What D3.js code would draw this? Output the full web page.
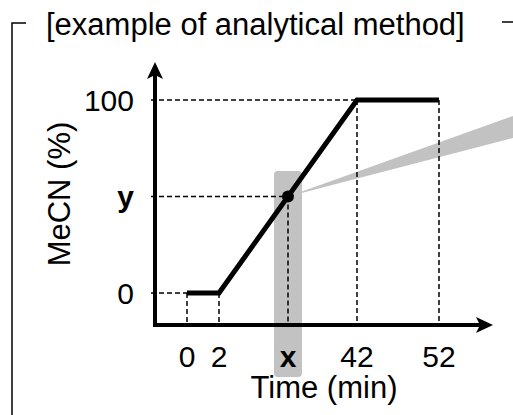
<!DOCTYPE html>
<html>
<head>
<meta charset="utf-8">
<script src="https://cdn.jsdelivr.net/npm/d3@7"></script>
<style>
  body { margin: 0; background: #fff; }
  text { font-family: "Liberation Sans", Arial, sans-serif; fill: #000; }
</style>
</head>
<body>
<div id="chart-area"></div>
<script>

// SVG Size
var width = 513,
    height = 415;

// Gradient program (time in min, MeCN in %)
var gradTime = [0, 2, 42, 52];
var gradMeCN = [0, 0, 100, 100];

// Example point read from the gradient
var markTime = [22];
var markMeCN = [50];

// Tick labels
var xTicks = [0, 2, 22, 42, 52];
var xTickLabels = ["0", "2", "x", "42", "52"];
var yTicks = [0, 50, 100];
var yTickLabels = ["0", "y", "100"];

var title = "[example of analytical method]";

var svg = d3.select("#chart-area")
    .append("svg")
    .attr("width", width)
    .attr("height", height);

// Schematic axis: not to scale, so piecewise
var x = d3.scaleLinear()
    .domain([0, 2, 42, 52])
    .range([187, 219, 357, 439]);

var y = d3.scaleLinear()
    .domain([0, 100])
    .range([293, 100]);

var axisX = 155,   // where the y axis sits
    axisY = 325;   // where the x axis sits

var grey = "#c2c2c2";

// Bracket frame
svg.append("path")
    .attr("d", "M26,23H12V415")
    .attr("fill", "none")
    .attr("stroke", "#000")
    .attr("stroke-width", 1.5);
svg.append("path")
    .attr("d", "M502,22H513")
    .attr("fill", "none")
    .attr("stroke", "#000")
    .attr("stroke-width", 1.5);

svg.append("text")
    .attr("x", 46)
    .attr("y", 35)
    .attr("font-size", "31px")
    .text(title);

// Grey band around the read-out time
svg.append("rect")
    .attr("x", x(markTime[0]) - 14)
    .attr("y", 171)
    .attr("width", 28)
    .attr("height", 206)
    .attr("rx", 4)
    .attr("fill", grey);

// Grey wedge pointing out of the chart
svg.append("polygon")
    .attr("points", [
        [x(markTime[0]), y(markMeCN[0])],
        [width, 116],
        [width, 138]
    ].join(" "))
    .attr("fill", grey);

// Dashed guides
var guides = svg.append("g")
    .attr("stroke", "#000")
    .attr("stroke-width", 1.5)
    .attr("stroke-dasharray", "5,3");

// horizontal guides from y axis
[[0, 0], [42, 100], [markTime[0], markMeCN[0]]].forEach(function(p) {
    guides.append("line")
        .attr("x1", axisX - 4)
        .attr("x2", x(p[0]))
        .attr("y1", y(p[1]))
        .attr("y2", y(p[1]));
});

// vertical guides down to x axis
gradTime.map(function(t, i) { return [t, gradMeCN[i]]; })
    .concat([[markTime[0], markMeCN[0]]])
    .forEach(function(p) {
        guides.append("line")
            .attr("x1", x(p[0]))
            .attr("x2", x(p[0]))
            .attr("y1", y(p[1]))
            .attr("y2", axisY);
    });

// Gradient line
var line = d3.line()
    .x(function(d, i) { return x(gradTime[i]); })
    .y(function(d) { return y(d); });

svg.append("path")
    .datum(gradMeCN)
    .attr("d", line)
    .attr("fill", "none")
    .attr("stroke", "#000")
    .attr("stroke-width", 5)
    .attr("stroke-linejoin", "miter");

svg.selectAll(".mark")
    .data(markTime)
    .enter()
    .append("circle")
    .attr("class", "mark")
    .attr("cx", function(d) { return x(d); })
    .attr("cy", function(d, i) { return y(markMeCN[i]); })
    .attr("r", 6)
    .attr("fill", "#000");

// Axes with arrow heads
var xEnd = 493, yEnd = 62;

svg.append("path")
    .attr("d", "M" + axisX + "," + (axisY + 2) + "V" + (yEnd + 10) +
               "M" + (axisX - 2) + "," + axisY + "H" + (xEnd - 10))
    .attr("fill", "none")
    .attr("stroke", "#000")
    .attr("stroke-width", 4);

svg.append("path")
    .attr("d", "M" + axisX + "," + yEnd +
               "L" + (axisX + 8) + "," + (yEnd + 17) +
               "L" + axisX + "," + (yEnd + 13) +
               "L" + (axisX - 8) + "," + (yEnd + 17) + "Z")
    .attr("fill", "#000");

svg.append("path")
    .attr("d", "M" + xEnd + "," + axisY +
               "L" + (xEnd - 17) + "," + (axisY - 8) +
               "L" + (xEnd - 13) + "," + axisY +
               "L" + (xEnd - 17) + "," + (axisY + 8) + "Z")
    .attr("fill", "#000");

// Tick labels
svg.selectAll(".xlab")
    .data(xTicks)
    .enter()
    .append("text")
    .attr("class", "xlab")
    .attr("x", function(d) { return x(d); })
    .attr("y", 367)
    .attr("text-anchor", "middle")
    .attr("font-size", "30px")
    .attr("font-weight", function(d, i) { return xTickLabels[i] === "x" ? "bold" : "normal"; })
    .text(function(d, i) { return xTickLabels[i]; });

svg.selectAll(".ylab")
    .data(yTicks)
    .enter()
    .append("text")
    .attr("class", "ylab")
    .attr("x", 134)
    .attr("y", function(d) { return y(d); })
    .attr("dy", "0.36em")
    .attr("text-anchor", "end")
    .attr("font-size", "30px")
    .attr("font-weight", function(d, i) { return yTickLabels[i] === "y" ? "bold" : "normal"; })
    .text(function(d, i) { return yTickLabels[i]; });

// Axis titles
svg.append("text")
    .attr("text-anchor", "middle")
    .attr("transform", "translate(70,194)rotate(-90)")
    .attr("font-size", "31px")
    .text("MeCN (%)");

svg.append("text")
    .attr("text-anchor", "middle")
    .attr("x", 324)
    .attr("y", 398)
    .attr("font-size", "31px")
    .text("Time (min)");

</script>
</body>
</html>
